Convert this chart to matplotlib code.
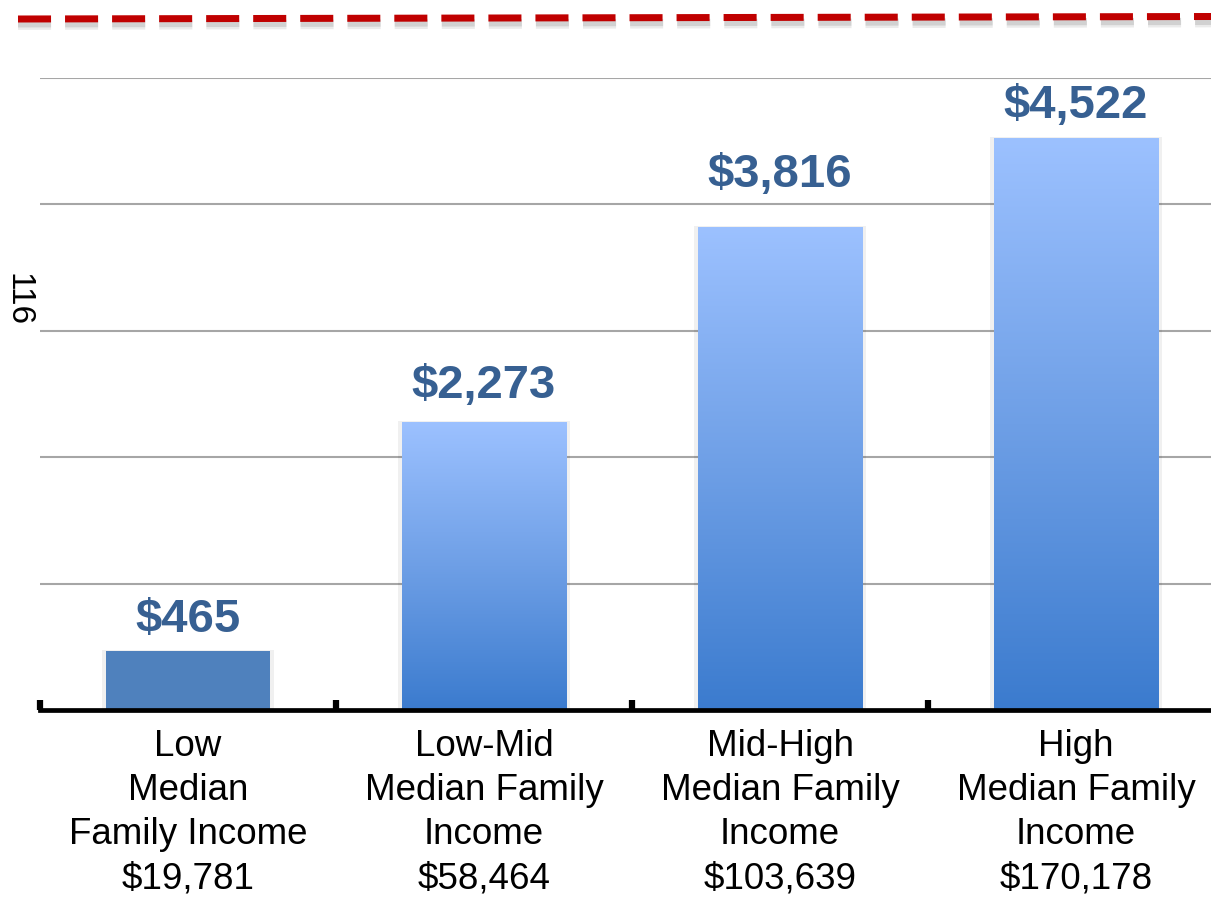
import numpy as np
import matplotlib.pyplot as plt
from matplotlib.colors import LinearSegmentedColormap
from matplotlib.lines import Line2D
from matplotlib.patches import Rectangle

plt.rcParams['font.family'] = ['Liberation Sans', 'DejaVu Sans']

# dados
categories = ["Low\nMedian\nFamily Income\n$19,781",
              "Low-Mid\nMedian Family\nIncome\n$58,464",
              "Mid-High\nMedian Family\nIncome\n$103,639",
              "High\nMedian Family\nIncome\n$170,178"]
values = [465, 2273, 3816, 4522]
value_labels = ["$465", "$2,273", "$3,816", "$4,522"]
grid_ticks = [1000, 2000, 3000, 4000, 5000]

W, H = 1211, 901
fig = plt.figure(figsize=(W / 100, H / 100), dpi=100)
ax = fig.add_axes([40 / W, (H - 710) / H, (W - 40) / W, 632 / H])

x = np.arange(len(values))
bw = 0.557
px_per_unit = 632 / 5000
label_gap_px = [19, 25, 41, 20]  # distancia do rotulo ao topo da barra

# gradiente das barras
cmap = LinearSegmentedColormap.from_list('bar', ['#3B7BCE', '#6E9FE6', '#9CC1FF'])
grad = np.linspace(0, 1, 256).reshape(-1, 1)

for i, v in enumerate(values):
    # sombra leve
    ax.add_patch(Rectangle((x[i] - bw / 2 - 0.012, 0), bw + 0.024, v + 12,
                           color='#000000', alpha=0.06, lw=0, zorder=2))
    if i == 0:
        ax.bar(x[i], v, width=bw, color='#4F81BD', zorder=3)
    else:
        ax.imshow(grad, extent=(x[i] - bw / 2, x[i] + bw / 2, 0, v), origin='lower',
                  cmap=cmap, aspect='auto', zorder=3, interpolation='bilinear')
    ax.text(x[i], v + label_gap_px[i] / px_per_unit, value_labels[i], ha='center',
            va='baseline', fontsize=34, fontweight='bold', color='#376092', zorder=4)

ax.set_xlim(-0.5, -0.5 + (W - 40) / 296)
ax.set_ylim(0, 5000)

# linhas de grade
ax.set_yticks(grid_ticks)
ax.yaxis.grid(True, color='#A6A6A6', lw=1.5)
ax.set_axisbelow(True)
ax.tick_params(axis='y', length=0, labelleft=False)

for s in ['left', 'top', 'right']:
    ax.spines[s].set_visible(False)
ax.spines['bottom'].set_linewidth(3.4)
ax.spines['bottom'].set_color('black')
ax.spines['bottom'].set_zorder(5)

ax.set_xticks(x)
ax.set_xticklabels(categories, fontsize=26.5, linespacing=1.33, multialignment='center')
ax.tick_params(axis='x', which='major', length=0, pad=14)
ax.set_xticks([-0.5, 0.5, 1.5, 2.5], minor=True)
ax.tick_params(axis='x', which='minor', direction='in', length=7.5, width=4.5, color='black')

fig.text(18 / W, 1 - 300 / H, '116', rotation=-90, ha='center', va='center', fontsize=24)

# linha tracejada vermelha no topo (com sombra)
xs = [18 / W, 1]
for off, a, lw in [(6, 0.12, 7), (5, 0.18, 5)]:
    fig.add_artist(Line2D(xs, [1 - (19 + off) / H, 1 - (16.5 + off) / H],
                          transform=fig.transFigure, color='#606060', alpha=a,
                          lw=lw, dashes=(23.8 / lw, 10.1 / lw)))
fig.add_artist(Line2D(xs, [1 - 19 / H, 1 - 16.5 / H], transform=fig.transFigure,
                      color='#C00000', lw=5.04, dashes=(4.72, 2.0)))

fig.savefig('out.png', dpi=100)
